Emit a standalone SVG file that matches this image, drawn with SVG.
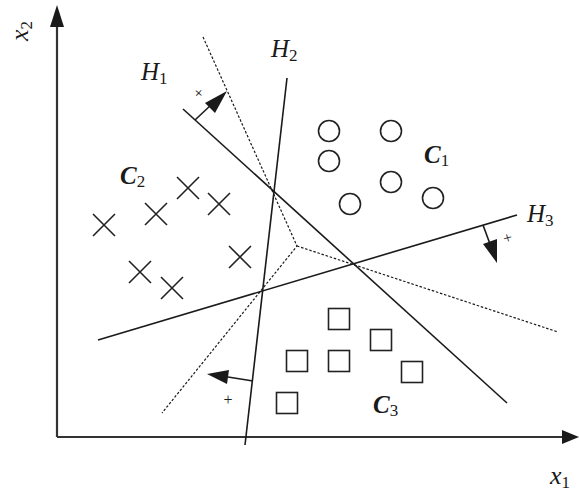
<svg xmlns="http://www.w3.org/2000/svg" width="579" height="493" viewBox="0 0 579 493">
<style>
.ax{stroke:#333;stroke-width:2.2;fill:none}
.ln{stroke:#1a1a1a;stroke-width:1.6;fill:none}
.dt{stroke:#1a1a1a;stroke-width:1.2;fill:none;stroke-dasharray:2.5 1.8}
.sym{stroke:#222;stroke-width:1.6;fill:none}
.t{font-family:"Liberation Serif",serif;font-style:italic;fill:#1a1a1a}
.c{font-family:"Liberation Serif",serif;font-style:italic;font-weight:bold;fill:#1a1a1a}
.s{font-family:"Liberation Serif",serif;font-style:normal;font-weight:normal;fill:#1a1a1a}
.ah{fill:#1a1a1a}
</style>
<rect width="579" height="493" fill="#fff"/>
<g id="axes">
<line class="ax" x1="57" y1="437" x2="57" y2="24"/>
<polygon class="ah" points="57,5 50,27 64,27"/>
<line class="ax" x1="57" y1="437" x2="562" y2="437"/>
<polygon class="ah" points="579,437 562,430 562,444"/>
<text class="t" font-size="26" transform="translate(28,31) rotate(-90)" text-anchor="middle">x<tspan class="s" font-size="17" dy="4">2</tspan></text>
<text class="t" font-size="26" x="550" y="484">x<tspan class="s" font-size="17" dy="4">1</tspan></text>
</g>
<g id="connectors">
<line class="ln" x1="183" y1="109" x2="507" y2="403"/>
<line class="ln" x1="287" y1="78" x2="245" y2="445"/>
<line class="ln" x1="98" y1="340" x2="517" y2="215"/>
<polyline class="dt" points="203,37 297,246 162,413"/>
<line class="dt" x1="297" y1="246" x2="558" y2="332"/>
<line class="ln" x1="195" y1="120" x2="212" y2="104"/>
<polygon class="ah" points="227,91 205,103 215,113"/>
<line class="ln" x1="253" y1="381" x2="228" y2="377"/>
<polygon class="ah" points="207,374 229,370 227,384"/>
<line class="ln" x1="483" y1="225" x2="490" y2="244"/>
<polygon class="ah" points="497,263 483,244 497,239"/>
</g>
<g id="labels">
<text class="t" font-size="25" x="141" y="80">H<tspan class="s" font-size="17" dy="4">1</tspan></text>
<text class="t" font-size="25" x="271" y="57">H<tspan class="s" font-size="17" dy="4">2</tspan></text>
<text class="t" font-size="25" x="527" y="222">H<tspan class="s" font-size="17" dy="4">3</tspan></text>
<text class="s" font-size="16" text-anchor="middle" transform="translate(195,97) rotate(42)">+</text>
<text class="s" font-size="16" text-anchor="middle" x="228" y="405">+</text>
<text class="s" font-size="16" text-anchor="middle" transform="translate(509,243) rotate(-17)">+</text>
</g>
<g id="C1">
<circle class="sym" cx="329" cy="131" r="10.5"/>
<circle class="sym" cx="391" cy="131" r="10.5"/>
<circle class="sym" cx="329" cy="161" r="10.5"/>
<circle class="sym" cx="391" cy="182" r="10.5"/>
<circle class="sym" cx="350" cy="204" r="10.5"/>
<circle class="sym" cx="433" cy="198" r="10.5"/>
<text class="c" font-size="25" x="424" y="163">C<tspan class="s" font-size="17" dy="3">1</tspan></text>
</g>
<g id="C2">
<path class="sym" d="M93,214l22,22M93,236l22,-22M145,203l22,22M145,225l22,-22M177,177l22,22M177,199l22,-22M208,193l22,22M208,215l22,-22M229,246l22,22M229,268l22,-22M129,261l22,22M129,283l22,-22M161,277l22,22M161,299l22,-22"/>
<text class="c" font-size="25" x="120" y="184">C<tspan class="s" font-size="17" dy="3">2</tspan></text>
</g>
<g id="C3">
<rect class="sym" x="328.5" y="308.5" width="21" height="21"/>
<rect class="sym" x="370.5" y="329.5" width="21" height="21"/>
<rect class="sym" x="286.5" y="350.5" width="21" height="21"/>
<rect class="sym" x="328.5" y="350.5" width="21" height="21"/>
<rect class="sym" x="401.5" y="361.5" width="21" height="21"/>
<rect class="sym" x="276.5" y="392.5" width="21" height="21"/>
<text class="c" font-size="25" x="373" y="413">C<tspan class="s" font-size="17" dy="3">3</tspan></text>
</g>
</svg>
